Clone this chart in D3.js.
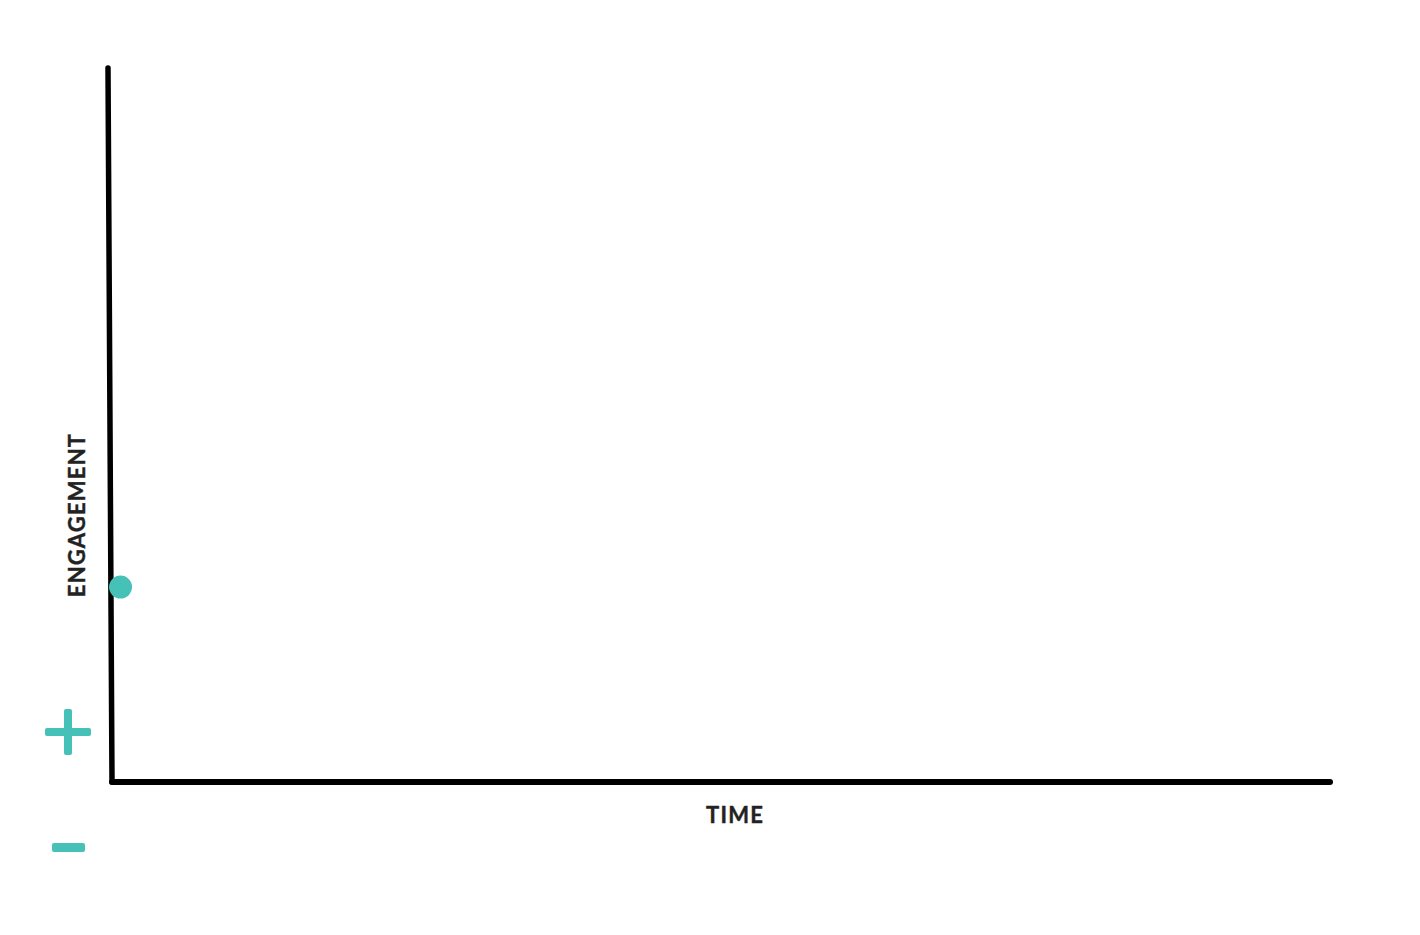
<!DOCTYPE html>
<html>
<head>
<meta charset="utf-8">
<script src="https://cdn.jsdelivr.net/npm/d3@7"></script>
<style>
  body { margin: 0; background: #fff; }
  text { font-family: Lato, "Open Sans", sans-serif; font-weight: 700; fill: #222; }
</style>
</head>
<body>
<svg id="chart" width="1420" height="935"></svg>
<script>
// Data: a single starting point on an empty engagement-over-time chart
let timeDomain = [0, 100]
let engagementDomain = [0, 100]
let pointTimes = [0.7]
let pointEngagement = [27.3]
let axisLabels = ['TIME', 'ENGAGEMENT']

let teal = '#45c1b8'

var svg = d3.select('#chart')

// Scales, the y axis is drawn a little slanted like in the sketch
var x = d3.scaleLinear().domain(timeDomain).range([112, 1330])
var y = d3.scaleLinear().domain(engagementDomain).range([782, 68])

// vertical axis (top leans 4px left)
svg.append('line')
    .attr('x1', x(0)).attr('y1', y(0))
    .attr('x2', x(0) - 4).attr('y2', y(100))
    .attr('stroke', '#000')
    .attr('stroke-width', 5.5)
    .attr('stroke-linecap', 'round')

// horizontal axis
svg.append('line')
    .attr('x1', x(0)).attr('y1', y(0))
    .attr('x2', x(100)).attr('y2', y(0))
    .attr('stroke', '#000')
    .attr('stroke-width', 6)
    .attr('stroke-linecap', 'round')

// axis titles
svg.append('text')
    .attr('x', 735).attr('y', 823)
    .attr('text-anchor', 'middle')
    .style('font-size', '22px')
    .style('letter-spacing', '1.2px')
    .style('stroke', '#222').style('stroke-width', 0.4)
    .text(axisLabels[0])

svg.append('text')
    .attr('transform', 'translate(85,515) rotate(-90)')
    .attr('text-anchor', 'middle')
    .style('font-size', '22px')
    .style('letter-spacing', '1.2px')
    .style('stroke', '#222').style('stroke-width', 0.4)
    .text(axisLabels[1])

// plus / minus markers next to the y axis
var signs = svg.append('g').attr('fill', teal)
signs.append('rect').attr('x', 45).attr('y', 728).attr('width', 46).attr('height', 8).attr('rx', 2)
signs.append('rect').attr('x', 64).attr('y', 709).attr('width', 8).attr('height', 46).attr('rx', 2)
signs.append('rect').attr('x', 52).attr('y', 843).attr('width', 33).attr('height', 9).attr('rx', 2)

// the point
svg.selectAll('circle.pt')
    .data(pointTimes)
    .enter()
    .append('circle')
    .attr('class', 'pt')
    .attr('cx', (d) => x(d))
    .attr('cy', (d, i) => y(pointEngagement[i]))
    .attr('r', 11.5)
    .attr('fill', teal)
</script>
</body>
</html>
